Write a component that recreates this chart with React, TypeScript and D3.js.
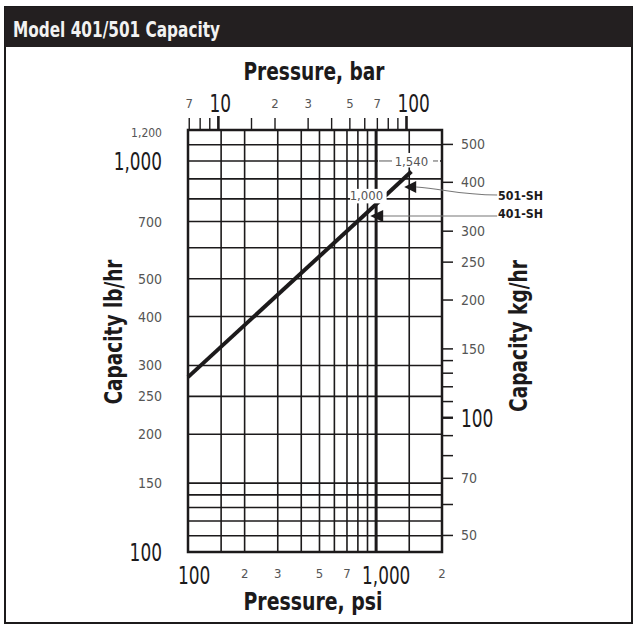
import * as d3 from "d3";

// units
const PSI_PER_BAR = 14.5038;
const LB_PER_KG = 2.20462;

// axis domains (psi bottom, lb/hr left)
const PSI_DOMAIN = [100, 2240];
const CAP_DOMAIN = [100, 1200];

// grid lines
const psiGrid = [150, 200, 300, 400, 500, 600, 700, 800, 900, 1000, 1500];
const capGrid = [110, 120, 130, 140, 150, 200, 250, 300, 400, 500, 600, 700, 800, 900, 1000, 1100];

// top axis (bar)
const barTicks = [7, 8, 9, 10, 15, 20, 30, 40, 50, 60, 70, 80, 90, 100];
const barLabelValues = [7, 10, 20, 30, 50, 70, 100];
const barLabelTexts = ["7", "10", "2", "3", "5", "7", "100"];

// bottom axis (psi)
const psiLabelValues = [100, 200, 300, 500, 700, 1000, 2240];
const psiLabelTexts = ["100", "2", "3", "5", "7", "1,000", "2"];

// left axis (lb/hr)
const lbLabelValues = [1200, 1000, 700, 500, 400, 300, 250, 200, 150, 100];
const lbLabelTexts = ["1,200", "1,000", "700", "500", "400", "300", "250", "200", "150", "100"];

// right axis (kg/hr)
const kgTicks = [50, 60, 70, 80, 90, 100, 110, 120, 130, 140, 150, 200, 250, 300, 400, 500];
const kgLabelValues = [500, 400, 300, 250, 200, 150, 100, 70, 50];

// capacity lines
const model401Psi = [100, 1000];
const model401Cap = [280, 775];
const model501Psi = [1000, 1540];
const model501Cap = [775, 940];

// max pressure callouts and arrows
const maxLabels = ["1,000", "1,540"];
const arrow501 = { psi: 1410, cap: 858 };
const arrow401 = { psi: 930, cap: 723 };

const FONT = "'Liberation Sans Narrow', 'DejaVu Sans Condensed', 'Liberation Sans', sans-serif";
const INK = "#1c1a1b";

const L = 188, R = 442, T = 130, B = 552;

const isBig = (v: number) => Math.abs(Math.log10(v) - Math.round(Math.log10(v))) < 1e-9;
const bigLen = (t: string) => t.replace(",", "").length * 10.8 + (t.includes(",") ? 5 : 0);

export default function App() {
  const x = d3.scaleLog().domain(PSI_DOMAIN).range([L, R]);
  const y = d3.scaleLog().domain(CAP_DOMAIN).range([B, T]);
  const xBar = d3.scaleLog().domain(PSI_DOMAIN.map((d) => d / PSI_PER_BAR)).range([L, R]);
  const yKg = d3.scaleLog().domain(CAP_DOMAIN.map((d) => d / LB_PER_KG)).range([B, T]);

  const line = d3
    .line<[number, number]>()
    .x((d) => x(d[0]))
    .y((d) => y(d[1]));
  const s401 = model401Psi.map((p, i) => [p, model401Cap[i]] as [number, number]);
  const s501 = model501Psi.map((p, i) => [p, model501Cap[i]] as [number, number]);

  const a5x = x(arrow501.psi), a5y = y(arrow501.cap);
  const a4x = x(arrow401.psi), a4y = y(arrow401.cap);

  return (
    <svg
      width={640}
      height={640}
      style={{ position: "absolute", left: 0, top: 0, background: "#fff" }}
      fontFamily={FONT}
    >
      {/* outer frame and title bar */}
      <rect x={5} y={7} width={627} height={616} fill="#fff" stroke={INK} strokeWidth={2} />
      <rect x={5} y={7} width={627} height={40} fill="#231f20" />
      <text x={13} y={37} fill="#f2f2f2" fontWeight="bold" fontSize={22} textLength={207} lengthAdjust="spacingAndGlyphs">
        Model 401/501 Capacity
      </text>

      {/* axis titles */}
      <text x={314} y={80} textAnchor="middle" fontWeight="bold" fontSize={25} fill={INK} textLength={141} lengthAdjust="spacingAndGlyphs">
        Pressure, bar
      </text>
      <text x={313} y={610} textAnchor="middle" fontWeight="bold" fontSize={24} fill={INK} textLength={139} lengthAdjust="spacingAndGlyphs">
        Pressure, psi
      </text>
      <text transform="translate(122,332) rotate(-90)" textAnchor="middle" fontWeight="bold" fontSize={25} fill={INK} textLength={145} lengthAdjust="spacingAndGlyphs">
        Capacity  lb/hr
      </text>
      <text transform="translate(527,336) rotate(-90)" textAnchor="middle" fontWeight="bold" fontSize={25} fill={INK} textLength={152} lengthAdjust="spacingAndGlyphs">
        Capacity kg/hr
      </text>

      {/* grid */}
      <g stroke={INK} fill="none">
        {capGrid.map((c) => (
          <line key={"h" + c} x1={L} x2={R} y1={y(c)} y2={y(c)} strokeWidth={1.6} />
        ))}
        {psiGrid.map((p) => (
          <line key={"v" + p} x1={x(p)} x2={x(p)} y1={T} y2={B} strokeWidth={p === 1000 ? 3 : 1.6} />
        ))}
      </g>

      {/* top bar ticks */}
      <g stroke={INK}>
        {barTicks.map((b) => (
          <line key={"bt" + b} x1={xBar(b)} x2={xBar(b)} y1={isBig(b) ? 116 : 118} y2={T} strokeWidth={isBig(b) ? 2.6 : 1.4} />
        ))}
      </g>
      {barLabelValues.map((b, i) => {
        const t = barLabelTexts[i];
        return isBig(b) ? (
          <text key={"bl" + b} x={xBar(b) - 9} y={112} fontSize={25} fill={INK} textLength={bigLen(t)} lengthAdjust="spacingAndGlyphs">
            {t}
          </text>
        ) : (
          <text key={"bl" + b} x={xBar(b)} y={108} textAnchor="middle" fontSize={13} fill="#555">
            {t}
          </text>
        );
      })}

      {/* bottom psi labels */}
      {psiLabelValues.map((p, i) => {
        const t = psiLabelTexts[i];
        return isBig(p) ? (
          <text key={"pl" + p} x={x(p) - (t.includes(",") ? 14 : 10)} y={584} fontSize={24} fill={INK} textLength={bigLen(t)} lengthAdjust="spacingAndGlyphs">
            {t}
          </text>
        ) : (
          <text key={"pl" + p} x={x(p)} y={578} textAnchor="middle" fontSize={13} fill="#555">
            {t}
          </text>
        );
      })}

      {/* left lb/hr labels */}
      {lbLabelValues.map((c, i) => {
        const t = lbLabelTexts[i];
        return isBig(c) ? (
          <text key={"ll" + c} x={162} y={y(c) + 9} textAnchor="end" fontSize={25} fill={INK} textLength={bigLen(t)} lengthAdjust="spacingAndGlyphs">
            {t}
          </text>
        ) : (
          <text key={"ll" + c} x={162} y={y(c) + (c === 1200 ? 7 : 5)} textAnchor="end" fontSize={c === 1200 ? 12 : 14} fill="#555">
            {t}
          </text>
        );
      })}

      {/* right kg/hr ticks and labels */}
      <g stroke={INK}>
        {kgTicks.map((k) => (
          <line key={"kt" + k} x1={R} x2={453} y1={yKg(k)} y2={yKg(k)} strokeWidth={k === 100 ? 2.4 : 1.5} />
        ))}
      </g>
      {kgLabelValues.map((k) =>
        isBig(k) ? (
          <text key={"kl" + k} x={461} y={yKg(k) + 9} fontSize={25} fill={INK} textLength={bigLen(String(k))} lengthAdjust="spacingAndGlyphs">
            {k}
          </text>
        ) : (
          <text key={"kl" + k} x={461} y={yKg(k) + 5} fontSize={14} fill="#555">
            {k}
          </text>
        )
      )}

      {/* capacity lines */}
      <path d={line(s401) ?? ""} fill="none" stroke={INK} strokeWidth={4} />
      <path d={line(s501) ?? ""} fill="none" stroke={INK} strokeWidth={4} />

      {/* plot frame */}
      <rect x={L} y={T} width={R - L} height={B - T} fill="none" stroke={INK} strokeWidth={2.5} />

      {/* max pressure callouts */}
      <rect x={x(model401Psi[1]) - 26} y={y(800) - 10} width={36.5} height={14.5} fill="#fff" />
      <text x={x(model401Psi[1]) + 7} y={y(800) + 1.5} textAnchor="end" fontSize={13} fill="#555">
        {maxLabels[0]}
      </text>
      <rect x={378} y={y(1000) - 8} width={62} height={14.5} fill="#fff" />
      <line x1={379} x2={392} y1={y(1000)} y2={y(1000)} stroke="#888" strokeWidth={1.4} />
      <line x1={433} x2={438} y1={y(1000)} y2={y(1000)} stroke="#888" strokeWidth={1.4} />
      <text x={x(model501Psi[1])} y={y(1000) + 5} textAnchor="middle" fontSize={13} fill="#555">
        {maxLabels[1]}
      </text>

      {/* model arrows */}
      <path d={`M${a5x + 12},${a5y} C${a5x + 40},${a5y + 2} ${a5x + 55},${a5y + 8} ${a5x + 93},${a5y + 8}`} fill="none" stroke="#777" strokeWidth={1.1} />
      <path d={`M${a5x},${a5y} L${a5x + 12},${a5y - 6} L${a5x + 12},${a5y + 6} Z`} fill={INK} />
      <line x1={a4x + 12} x2={a4x + 127} y1={a4y} y2={a4y} stroke="#777" strokeWidth={1.1} />
      <path d={`M${a4x},${a4y} L${a4x + 13},${a4y - 6} L${a4x + 13},${a4y + 6} Z`} fill={INK} />
      <text x={498} y={a5y + 13} fontWeight="bold" fontSize={13} fill={INK} textLength={45} lengthAdjust="spacingAndGlyphs">
        501-SH
      </text>
      <text x={498} y={a4y + 2} fontWeight="bold" fontSize={13} fill={INK} textLength={45} lengthAdjust="spacingAndGlyphs">
        401-SH
      </text>
    </svg>
  );
}
